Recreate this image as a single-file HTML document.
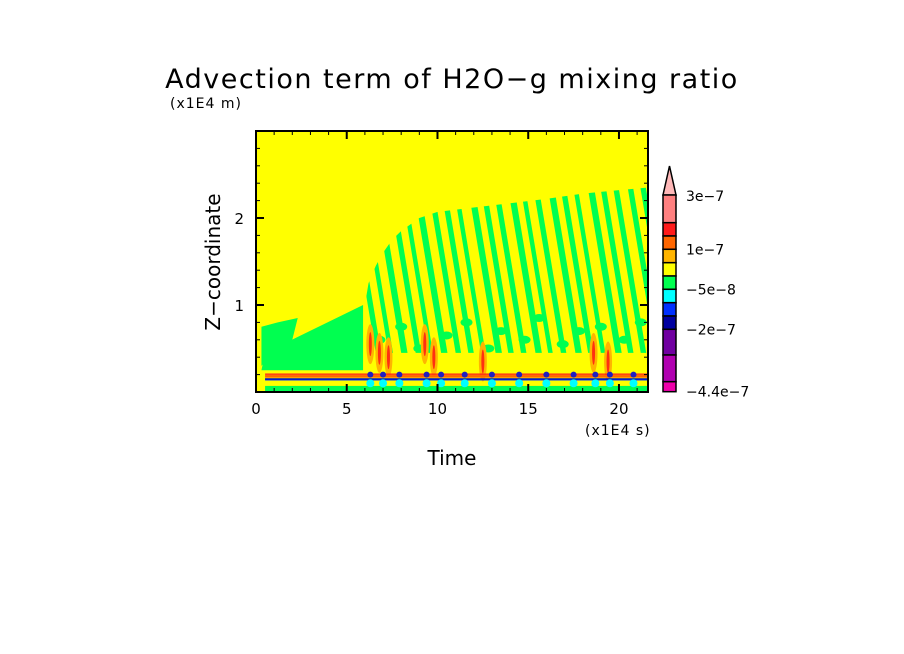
<!DOCTYPE html>
<html><head><meta charset="utf-8"><style>
body{margin:0;background:#fff;}
svg{display:block;font-family:"DejaVu Sans","Liberation Sans",sans-serif;}
</style></head><body>
<svg id="chart" width="904" height="654" viewBox="0 0 904 654">
<defs><clipPath id="pc"><rect x="256" y="131" width="392" height="261"/></clipPath>
<clipPath id="tc"><polygon id="turbpoly" points=""/></clipPath></defs>
<text x="452" y="88" font-size="27" letter-spacing="1.5" text-anchor="middle">Advection term of H2O−g mixing ratio</text>
<text x="170" y="108" font-size="14" letter-spacing="1">(x1E4 m)</text>
<g clip-path="url(#pc)" id="field">
<rect x="256" y="131" width="392" height="261" fill="#ffff00"/>
</g>
<rect x="256" y="131" width="392" height="261" fill="none" stroke="#000" stroke-width="2"/>
<g id="axes"></g>
<g id="cbar"></g>
<text x="452" y="465" font-size="20" text-anchor="middle">Time</text>
<text x="585" y="435" font-size="14" letter-spacing="1">(x1E4 s)</text>
<text transform="translate(220,262) rotate(-90)" font-size="20" text-anchor="middle">Z−coordinate</text>
</svg>
<script>
const xTicks=[0,5,10,15,20];
const yTicks=[1,2];
const boundT=[6.0,6.2,6.6,7,7.5,8,9,10,12,14,16,18,20,21.6];
const boundZ=[1.0,1.25,1.45,1.6,1.75,1.85,2.0,2.07,2.12,2.17,2.22,2.28,2.32,2.35];
const stripeT=[6.6,7.3,8.0,8.8,9.5,10.2,11.0,11.7,12.4,13.2,13.9,14.6,15.4,16.1,16.8,17.6,18.3,19.0,19.8,20.5,21.2,22.0,22.7,23.4];
const stripeW=[0.3,0.25,0.35,0.3,0.25,0.35,0.3,0.3,0.25,0.35,0.3,0.3,0.35,0.25,0.3,0.35,0.3,0.25,0.35,0.3,0.3,0.3,0.3,0.3];
const blobT=[6.8,8.0,9.0,10.5,11.6,12.8,13.5,14.8,15.6,16.9,17.8,19.0,20.3,21.2];
const blobZ=[0.6,0.75,0.5,0.65,0.8,0.5,0.7,0.6,0.85,0.55,0.7,0.75,0.6,0.8];
const coreT=[6.3,6.8,7.3,9.3,9.8,12.5,18.6,19.4];
const coreZ=[0.55,0.45,0.4,0.55,0.4,0.35,0.45,0.35];
const spotT=[6.3,7.0,7.9,9.4,10.2,11.5,13.0,14.5,16.0,17.5,18.7,19.5,20.8];
const cbColors=["#ff8080","#ff1a1a","#ff6600","#ffb400","#ffff00","#00ff50","#00ffff","#0030ff","#0000a0","#7000a0","#b000b0","#ee00aa"];
const cbEdges=[195,222.7,236,249.3,262.7,276,289.3,302.7,316,329.3,355,381.7,391.7];
const cbLabels=["3e−7","1e−7","−5e−8","−2e−7","−4.4e−7"];
const cbLabelPos=[196,249.3,289.3,329.3,391.7];
const NS="http://www.w3.org/2000/svg";
const X=t=>256+t*392/21.6, Y=z=>392-z*87;
function mk(tag,attrs,parent){const e=document.createElementNS(NS,tag);for(const k in attrs)e.setAttribute(k,attrs[k]);parent.appendChild(e);return e;}
const field=document.getElementById('field');
let p=mk('polygon',{points:`${X(0.3)},${Y(0.25)} ${X(5.9)},${Y(0.25)} ${X(5.9)},${Y(1.0)} ${X(0.5)},${Y(0.45)}`,fill:'#00ff50'},field);


p=mk('polygon',{points:`${X(0.3)},${Y(0.3)} ${X(0.3)},${Y(0.75)} ${X(1.2)},${Y(0.8)} ${X(2.3)},${Y(0.85)} ${X(2.0)},${Y(0.6)} ${X(1.2)},${Y(0.5)}`,fill:'#00ff50'},field);


let pts=[`${X(6)},${Y(0.25)}`];
boundT.forEach((t,i)=>pts.push(`${X(t)},${Y(boundZ[i])}`));
pts.push(`${X(21.6)},${Y(0.25)}`);
document.getElementById('turbpoly').setAttribute('points',pts.join(' '));
const tg=mk('g',{'clip-path':'url(#tc)'},field);


mk('rect',{x:X(6),y:Y(2.4),width:X(21.6)-X(6),height:Y(0.25)-Y(2.4),fill:'#ffff00'},tg);
stripeT.forEach((t,i)=>{
  const z0=0.45, zt=2.5, sh=1.6*(zt-z0)/2, w=stripeW[i];
  const s=mk('polygon',{points:`${X(t)},${Y(z0)} ${X(t+w)},${Y(z0)} ${X(t+w-sh)},${Y(zt)} ${X(t-sh)},${Y(zt)}`,fill:'#00ff50'},tg);
  
  
});
blobT.forEach((t,i)=>{
  const b=mk('ellipse',{cx:X(t),cy:Y(blobZ[i]),rx:6,ry:4,fill:'#00ff50'},tg);
  
  
});
coreT.forEach((t,i)=>{
  const e=mk('ellipse',{cx:X(t),cy:Y(coreZ[i]),rx:4,ry:20,fill:'#ffb400'},field);
  
  
  const r=mk('ellipse',{cx:X(t),cy:Y(coreZ[i]),rx:1.5,ry:12,fill:'#ff3010'},field);
  
  
});
[[0.04,'#00ff50',0.06],[0.18,'#ff6600',0.03],[0.205,'#ff1a1a',0.015],[0.145,'#0030ff',0.025],[0.15,'#0000a0',0.012]].forEach(([z,c,h])=>{
  const r=mk('rect',{x:X(0.5),y:Y(z+h/2),width:X(21.6)-X(0.5),height:h*87,fill:c},field);
  
  
});
spotT.forEach(t=>{
  const c=mk('ellipse',{cx:X(t),cy:Y(0.1),rx:4,ry:4,fill:'#00ffff'},field);
  
  
  const d=mk('ellipse',{cx:X(t),cy:Y(0.2),rx:3,ry:3,fill:'#2020c0'},field);
  
  
});
const ax=document.getElementById('axes');
for(let t=1;t<=21;t++){const maj=xTicks.includes(t);const L=maj?8:4;
  let a=mk('line',{x1:X(t),x2:X(t),y1:392,y2:392-L,stroke:'#000','stroke-width':maj?2:1},ax);
  
  a=mk('line',{x1:X(t),x2:X(t),y1:131,y2:131+L,stroke:'#000','stroke-width':maj?2:1},ax);
  }
xTicks.forEach(t=>{const e=mk('text',{x:X(t),y:414,'font-size':15,'text-anchor':'middle'},ax);e.textContent=t;
  });
for(let k=1;k<15;k++){const z=k*0.2;const maj=(k%5===0);const L=maj?8:4;
  let a=mk('line',{x1:256,x2:256+L,y1:Y(z),y2:Y(z),stroke:'#000','stroke-width':maj?2:1},ax);
  
  a=mk('line',{x1:648,x2:648-L,y1:Y(z),y2:Y(z),stroke:'#000','stroke-width':maj?2:1},ax);
  }
yTicks.forEach(z=>{const e=mk('text',{x:244,y:Y(z)+6,'font-size':15,'text-anchor':'end'},ax);e.textContent=z;
  });
const cb=document.getElementById('cbar');
let tri=mk('polygon',{points:`663,195 676,195 669.5,166`,fill:'#ffb8b8',stroke:'#000','stroke-width':1.5},cb);

cbColors.forEach((c,i)=>{const r=mk('rect',{x:663,y:cbEdges[i],width:13,height:cbEdges[i+1]-cbEdges[i],fill:c,stroke:'#000','stroke-width':1.5},cb);
  });
cbLabels.forEach((l,i)=>{const e=mk('text',{x:686,y:cbLabelPos[i]+5,'font-size':14},cb);e.textContent=l;
  });
</script>
</body></html>
